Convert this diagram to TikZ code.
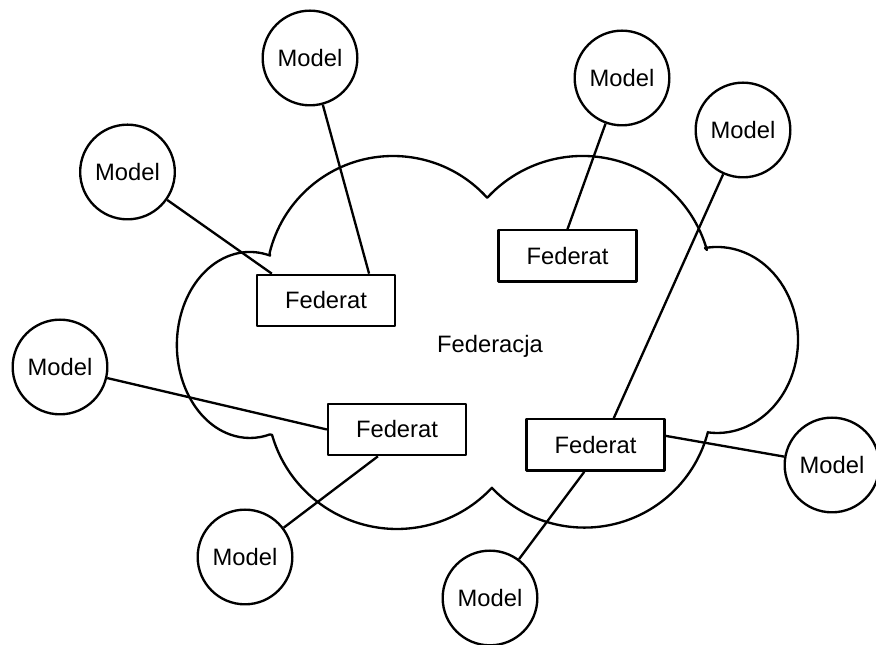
\documentclass[tikz,border=0pt]{standalone}
\usepackage{fontspec}
\setmainfont{Liberation Sans}
\usetikzlibrary{calc}

\begin{document}
\begin{tikzpicture}[x=0.75pt,y=0.75pt,
  line width=1.75pt, line join=round,
  labelfont/.style={font=\fontsize{17.8pt}{21pt}\selectfont},
  model/.style={draw, circle, minimum size=71pt, inner sep=0pt, labelfont},
  federat/.style={draw, rectangle, minimum width=103.5pt, minimum height=38.5pt,
                  inner sep=0pt, labelfont},
  link/.style={draw, line width=1.75pt},
  cloudline/.style={draw, line width=1.75pt}]

\useasboundingbox[fill=white] (0,0) rectangle (876,645);

% federation cloud built from six lobes
\path[cloudline]
  (270,389.4)    arc[start angle=74,    end angle=286,   x radius=54.75pt, y radius=69.75pt]
  -- (272.07,210.05) arc[start angle=196.07, end angle=316.9, radius=97.5pt]
  -- (492,157)   arc[start angle=223.6,  end angle=345.5, radius=95.7pt]
  -- (708,212.6) arc[start angle=-96.4,  end angle=98.5,  x radius=60.75pt, y radius=69.75pt]
  -- (706.9,395.05) arc[start angle=15.9, end angle=136.9, radius=97.05pt]
  -- (487.1,447.3) arc[start angle=42.2,  end angle=166.3, radius=95.25pt]
  -- cycle;

\node[labelfont, anchor=base] (fed) at (490,292) {Federacja};

% federates
\node[federat] (f1) at (326,344.5) {Federat};
\node[federat] (f2) at (567.5,389) {Federat};
\node[federat] (f3) at (397,215.5) {Federat};
\node[federat] (f4) at (595.5,200) {Federat};

% models
\node[model] (m1) at (310,587) {Model};
\node[model] (m2) at (127.5,473) {Model};
\node[model] (m3) at (622,567) {Model};
\node[model] (m4) at (743,515) {Model};
\node[model] (m5) at (60,278) {Model};
\node[model] (m6) at (832,180) {Model};
\node[model] (m7) at (245,88) {Model};
\node[model] (m8) at (490,47) {Model};

% model -- federate links
\path[link] (m1) -- ($(f1.north west)!0.807!(f1.north east)$);
\path[link] (m2) -- ($(f1.north west)!0.114!(f1.north east)$);
\path[link] (m3) -- (f2.north);
\path[link] (m4) -- ($(f4.north west)!0.63!(f4.north east)$);
\path[link] (m5) -- (f3.west);
\path[link] (m6) -- ($(f4.north east)!0.33!(f4.south east)$);
\path[link] (m7) -- ($(f3.south west)!0.364!(f3.south east)$);
\path[link] (m8) -- ($(f4.south west)!0.42!(f4.south east)$);

\end{tikzpicture}
\end{document}
